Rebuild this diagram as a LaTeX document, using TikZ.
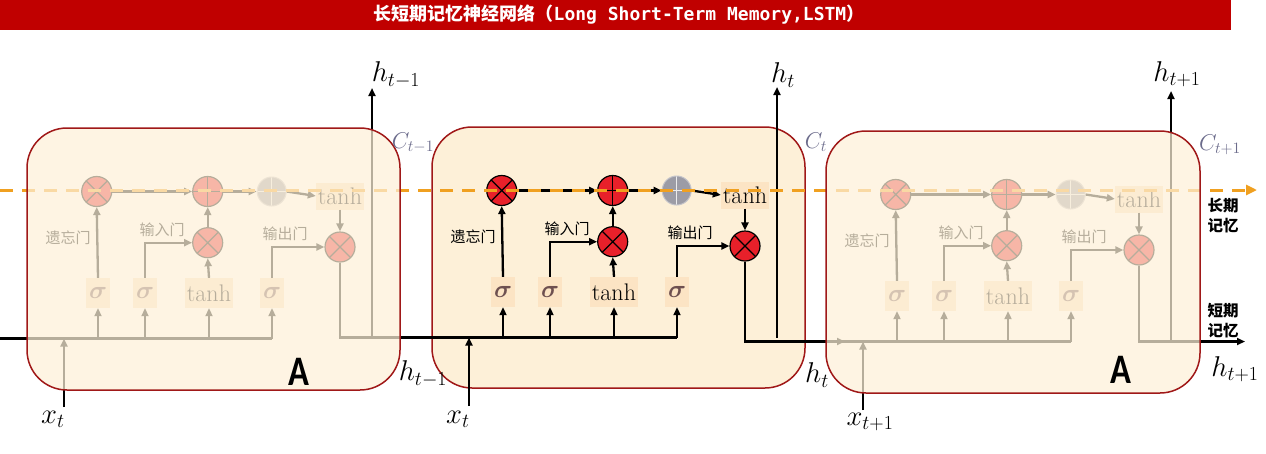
\documentclass[tikz,border=0pt]{standalone}
\usepackage{amsmath}
\usepackage{fontspec}
\usetikzlibrary{arrows.meta}
\newfontfamily\cjk{Noto Sans CJK SC}
\newfontfamily\monob{DejaVu Sans Mono}
\newfontfamily\carl{Carlito}
\definecolor{titlered}{HTML}{C00000}
\definecolor{boxred}{HTML}{A01818}
\definecolor{cellfill}{HTML}{FDF0D8}
\definecolor{gatered}{HTML}{E8202A}
\definecolor{lblfill}{HTML}{FCE4C4}
\definecolor{sigcol}{HTML}{6E5050}
\definecolor{dashor}{HTML}{F0A020}
\definecolor{ccol}{HTML}{6B6B8B}
\definecolor{plusgray}{HTML}{9C9CA6}
\newcommand\mathlbl[2]{\scalebox{#1}{$#2$}}
\tikzset{
  ln/.style={line width=2.3pt, draw=black},
  arr/.style={ln, -{Triangle[length=8pt,width=7pt]}},
  mul/.style={circle, draw=black, line width=1.2pt, fill=gatered, minimum size=30pt, inner sep=0pt,
    path picture={\draw[line width=1.2pt] (path picture bounding box.north west)--(path picture bounding box.south east)
      (path picture bounding box.south west)--(path picture bounding box.north east);}},
  add/.style={circle, draw=black, line width=1.2pt, fill=gatered, minimum size=30pt, inner sep=0pt,
    path picture={\draw[line width=1.2pt] (path picture bounding box.north)--(path picture bounding box.south)
      (path picture bounding box.west)--(path picture bounding box.east);}},
  gplus/.style={circle, draw=plusgray!60!white, line width=1pt, fill=plusgray, minimum size=29pt, inner sep=0pt,
    path picture={\draw[white!80!plusgray, line width=1.2pt] (path picture bounding box.north)--(path picture bounding box.south)
      (path picture bounding box.west)--(path picture bounding box.east);}},
  sig/.style={fill=lblfill, minimum width=24pt, minimum height=30pt, inner sep=0pt, text=sigcol, font=\fontsize{24}{24}\selectfont},
  tnh/.style={fill=lblfill, minimum width=48pt, minimum height=#1, inner sep=0pt, font=\fontsize{24}{24}\selectfont},
  gate/.style={font=\cjk\fontsize{15}{15}\selectfont, inner sep=0pt},
  cellbox/.style={draw=boxred, line width=1.5pt, rounded corners=40pt},
  mlab/.style={font=\fontsize{24}{24}\selectfont, inner sep=0pt},
  clab/.style={font=\fontsize{20}{20}\selectfont, text=ccol, inner sep=0pt},
  side/.style={font=\cjk\bfseries\fontsize{15.5}{20}\selectfont, align=center, inner sep=0pt},
  bigA/.style={font=\carl\bfseries\fontsize{42}{42}\selectfont, inner sep=0pt},
}
\newcommand\lstmcell[1]{%
  \node[mul] (#1f) at (501.7,190.5) {};
  \node[add] (#1p) at (612.7,190.5) {};
  \node[gplus] (#1g) at (676.7,190.5) {};
  \node[tnh=27pt] (#1th) at (745,195) {tanh};
  \node[mul] (#1i) at (612.7,241.7) {};
  \node[mul] (#1o) at (745,246) {};
  \node[sig] (#1s1) at (503,292) {$\boldsymbol{\sigma}$};
  \node[sig] (#1s2) at (550,292) {$\boldsymbol{\sigma}$};
  \node[tnh=30pt] (#1tc) at (614,292) {tanh};
  \node[sig] (#1s3) at (677,292) {$\boldsymbol{\sigma}$};
  \node[gate] (#1gf) at (473,237) {遗忘门};
  \node[gate] (#1gi) at (567,229) {输入门};
  \node[gate] (#1go) at (690,233) {输出门};
  \coordinate (#1in) at (432,337.5);
  \coordinate (#1end) at (677,337.5);
  \coordinate (#1tip) at (451,337.5);
  \coordinate (#1xb) at (469,406);
  \coordinate (#1xt) at (469,337.5);
  \coordinate (#1hb) at (777,337.5);
  \coordinate (#1ht) at (777,87);
  \draw[ln] (#1in) -- (#1end);
  \draw[arr] (#1xb) -- (#1xt);
  \draw[arr] (#1s1 |- #1in) -- (#1s1.south);
  \draw[arr] (#1s2 |- #1in) -- (#1s2.south);
  \draw[arr] (#1tc |- #1in) -- (#1tc.south);
  \draw[arr] (#1s3 |- #1in) -- (#1s3.south);
  \draw[arr] (#1s1.north) -- (#1f.south);
  \draw[arr] (#1s2.north) |- (#1i.west);
  \draw[arr] (#1tc.north) -- (#1i.south);
  \draw[arr] (#1i.north) -- (#1p.south);
  \draw[arr] (#1s3.north) |- (#1o.west);
  \draw[arr] (#1th.south) -- (#1o.north);
  \draw[arr] (#1f.east) -- (#1p.west);
  \draw[arr] (#1p.east) -- (#1g.west);
  \draw[arr] (#1g.east) -- (#1th.west);
  \draw[arr] (#1hb) -- (#1ht);
}
\begin{document}
\begin{tikzpicture}[x=1pt,y=-1pt]
\useasboundingbox (0,0) rectangle (1266,453);
% title bar
\fill[titlered] (0,0) rectangle (1231,30);
\node[text=white, inner sep=0pt] (title) at (619,15)
  {\fontsize{18}{18}\selectfont\cjk\bfseries 长短期记忆神经网络（\monob\bfseries Long Short-Term Memory,LSTM\cjk\bfseries ）};
% middle cell background
\draw[cellbox, fill=cellfill] (432,127) rectangle (805,388);
% cell contents
\begin{scope}[shift={(-405,1)}]
  \lstmcell{L}
\end{scope}
\lstmcell{M}
\begin{scope}[shift={(394,4)}]
  \lstmcell{R}
\end{scope}
% connections between cells
\coordinate (start) at (0,338.5);
\coordinate (hout) at (1245,341.5);
\draw[ln] (start) -- (Lin);
\draw[ln] (Lo.south) |- (Min);
\draw[arr] (Mo.south) |- (Rtip);
\draw[arr] (Ro.south) |- (hout);
% long-term memory dashed line
\coordinate (cs) at (0,190);
\coordinate (ce) at (1257,190);
\draw[dashor, line width=3pt, dash pattern=on 13pt off 9pt, -{Triangle[length=11pt,width=10pt]}] (cs) -- (ce);
% faded side cells
\draw[cellbox, fill=cellfill, fill opacity=0.72] (27,128) rectangle (400,390);
\draw[cellbox, fill=cellfill, fill opacity=0.72] (826,131) rectangle (1200,393);
% labels
\node[bigA] (A1) at (299,372) {\scalebox{0.82}[1]{A}};
\node[bigA] (A2) at (1121,370) {\scalebox{0.82}[1]{A}};
\node[mlab] (h1) at (396,75) {\mathlbl{1.15}{h_{t-1}}};
\node[mlab] (h2) at (783,75) {\mathlbl{1.15}{h_{t}}};
\node[mlab] (h3) at (1177,74) {\mathlbl{1.15}{h_{t+1}}};
\node[mlab] (h1b) at (423,374) {\mathlbl{1.15}{h_{t-1}}};
\node[mlab] (h2b) at (817,375) {\mathlbl{1.15}{h_{t}}};
\node[mlab] (h3b) at (1235,369) {\mathlbl{1.15}{h_{t+1}}};
\node[mlab] (x1) at (53,419) {\mathlbl{1.15}{x_{t}}};
\node[mlab] (x2) at (458,419) {\mathlbl{1.15}{x_{t}}};
\node[mlab] (x3) at (870,422) {\mathlbl{1.15}{x_{t+1}}};
\node[clab] (c1) at (413,143) {\mathlbl{1.1}{C_{t-1}}};
\node[clab] (c2) at (816,142) {\mathlbl{1.1}{C_{t}}};
\node[clab] (c3) at (1220,145) {\mathlbl{1.1}{C_{t+1}}};
\node[side] (lt) at (1223,216) {长期\\记忆};
\node[side] (st) at (1223,321) {短期\\记忆};
\end{tikzpicture}
\end{document}
